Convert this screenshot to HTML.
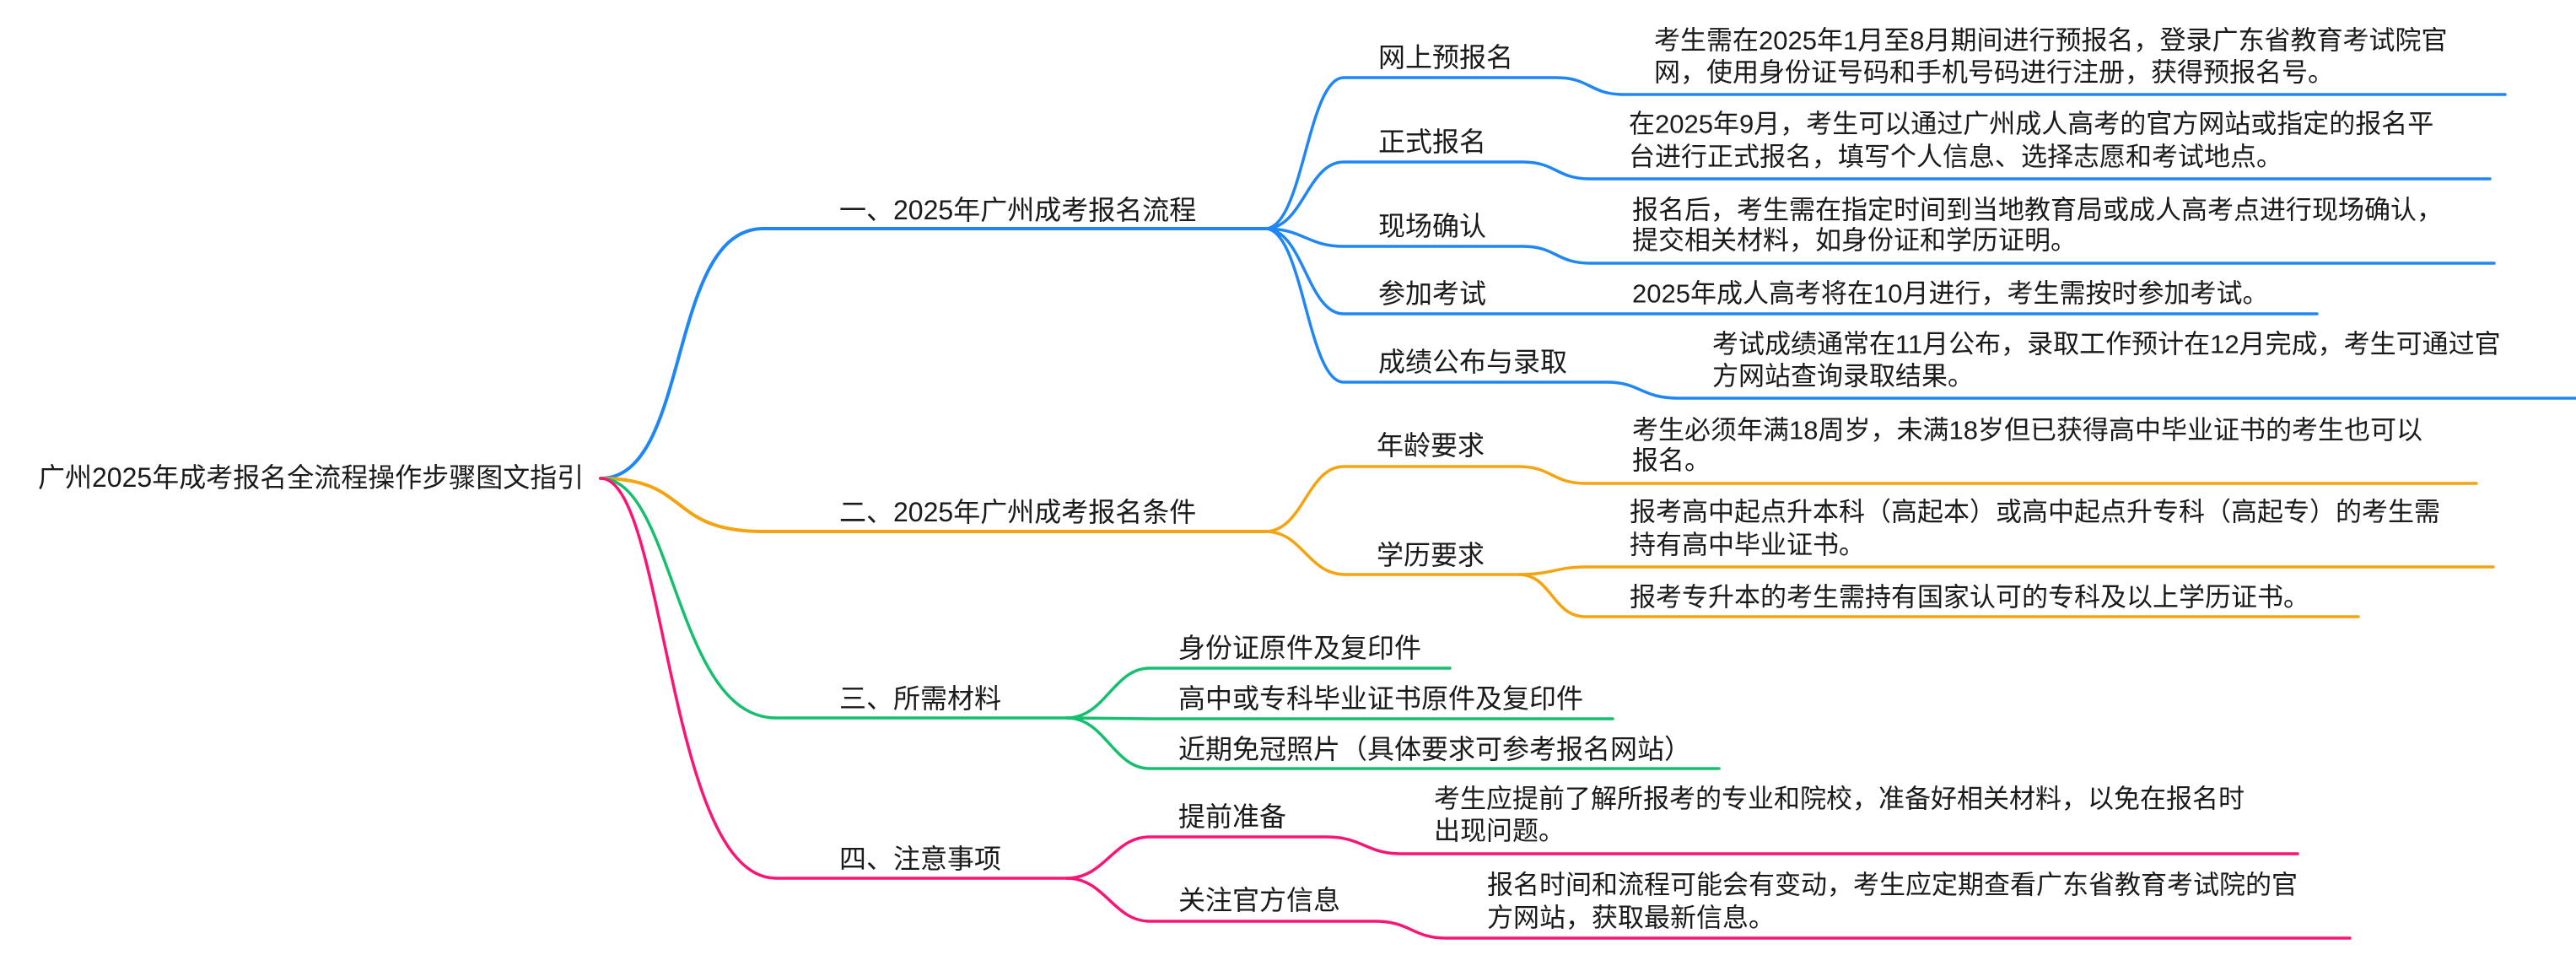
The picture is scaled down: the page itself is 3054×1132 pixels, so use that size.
<!DOCTYPE html>
<html><head><meta charset="utf-8"><style>
html,body{margin:0;padding:0;background:#fff;}
svg{display:block;}
text{font-family:"Liberation Sans","Noto Sans CJK SC",sans-serif;fill:#1a1a1a;dominant-baseline:central;}
.r{font-size:32px}.b{font-size:32px}.c{font-size:32px}.d{font-size:31px}
path{fill:none;stroke-linecap:round;}
.bl{stroke:#1f87f5}.or{stroke:#f5a30f}.gr{stroke:#14c06e}.pk{stroke:#fa1575}
</style></head><body>
<svg width="3054" height="1132" viewBox="0 0 3054 1132" xmlns="http://www.w3.org/2000/svg">
<text class="r" x="45" y="566">广州2025年成考报名全流程操作步骤图文指引</text>
<path class="bl" stroke-width="4" d="M712,567 C820,567 790,271 905,271 L1500,271"/>
<path class="or" stroke-width="4" d="M712,567 C820,567 790,630 905,630 L1500,630"/>
<path class="gr" stroke-width="3.5" d="M712,567 C800,567 800,851 920,851 L1265,851"/>
<path class="pk" stroke-width="3.5" d="M712,567 C790,567 790,1041 920,1041 L1265,1041"/>
<text class="b" x="995" y="249">一、2025年广州成考报名流程</text>
<text class="b" x="995" y="607">二、2025年广州成考报名条件</text>
<text class="b" x="995" y="828">三、所需材料</text>
<text class="b" x="995" y="1018">四、注意事项</text>

<g class="bl" stroke-width="3.5">
<path d="M1500,271 C1545,271 1550,92 1593,92 L1845,92 C1885,92 1885,112 1925,112 L2970,112"/>
<path d="M1500,271 C1545,271 1550,192 1593,192 L1805,192 C1845,192 1845,212 1885,212 L2952,212"/>
<path d="M1500,271 C1545,271 1550,292 1593,292 L1805,292 C1845,292 1845,312 1885,312 L2957,312"/>
<path d="M1500,271 C1545,271 1550,372 1593,372 L2747,372"/>
<path d="M1500,271 C1545,271 1550,453 1593,453 L1905,453 C1945,453 1945,472 1990,472 L3054,472"/>
</g>
<text class="c" x="1634" y="68">网上预报名</text>
<text class="c" x="1634" y="168">正式报名</text>
<text class="c" x="1634" y="268">现场确认</text>
<text class="c" x="1634" y="348">参加考试</text>
<text class="c" x="1634" y="429">成绩公布与录取</text>
<text class="d" x="1961" y="48">考生需在2025年1月至8月期间进行预报名，登录广东省教育考试院官</text>
<text class="d" x="1961" y="86">网，使用身份证号码和手机号码进行注册，获得预报名号。</text>
<text class="d" x="1931" y="147">在2025年9月，考生可以通过广州成人高考的官方网站或指定的报名平</text>
<text class="d" x="1931" y="186">台进行正式报名，填写个人信息、选择志愿和考试地点。</text>
<text class="d" x="1935" y="249">报名后，考生需在指定时间到当地教育局或成人高考点进行现场确认，</text>
<text class="d" x="1935" y="285">提交相关材料，如身份证和学历证明。</text>
<text class="d" x="1935" y="348">2025年成人高考将在10月进行，考生需按时参加考试。</text>
<text class="d" x="2030" y="408">考试成绩通常在11月公布，录取工作预计在12月完成，考生可通过官</text>
<text class="d" x="2030" y="446">方网站查询录取结果。</text>

<g class="or" stroke-width="3.5">
<path d="M1500,630 C1545,630 1550,553 1593,553 L1800,553 C1840,553 1840,573 1880,573 L2936,573"/>
<path d="M1500,630 C1545,630 1550,681 1595,681 L1800,681 C1840,681 1845,672 1880,672 L2956,672"/>
<path d="M1800,681 C1840,681 1840,731 1880,731 L2796,731"/>
</g>
<text class="c" x="1632" y="528">年龄要求</text>
<text class="c" x="1632" y="658">学历要求</text>
<text class="d" x="1935" y="510">考生必须年满18周岁，未满18岁但已获得高中毕业证书的考生也可以</text>
<text class="d" x="1935" y="546">报名。</text>
<text class="d" x="1932" y="607">报考高中起点升本科（高起本）或高中起点升专科（高起专）的考生需</text>
<text class="d" x="1932" y="646">持有高中毕业证书。</text>
<text class="d" x="1932" y="708">报考专升本的考生需持有国家认可的专科及以上学历证书。</text>

<g class="gr" stroke-width="3.5">
<path d="M1265,851 C1310,851 1320,792 1363,792 L1719,792"/>
<path d="M1265,851 L1363,852 L1912,852"/>
<path d="M1265,851 C1310,851 1320,911 1363,911 L2038,911"/>
</g>
<text class="c" x="1397" y="768">身份证原件及复印件</text>
<text class="c" x="1397" y="828">高中或专科毕业证书原件及复印件</text>
<text class="c" x="1397" y="888">近期免冠照片（具体要求可参考报名网站）</text>

<g class="pk" stroke-width="3.5">
<path d="M1265,1041 C1310,1041 1320,992 1363,992 L1573,992 C1615,992 1620,1012 1661,1012 L2724,1012"/>
<path d="M1265,1041 C1310,1041 1320,1092 1363,1092 L1630,1092 C1672,1092 1675,1112 1714,1112 L2786,1112"/>
</g>
<text class="c" x="1397" y="968">提前准备</text>
<text class="c" x="1397" y="1067">关注官方信息</text>
<text class="d" x="1700" y="947">考生应提前了解所报考的专业和院校，准备好相关材料，以免在报名时</text>
<text class="d" x="1700" y="985">出现问题。</text>
<text class="d" x="1763" y="1049">报名时间和流程可能会有变动，考生应定期查看广东省教育考试院的官</text>
<text class="d" x="1763" y="1088">方网站，获取最新信息。</text>
</svg>
</body></html>
